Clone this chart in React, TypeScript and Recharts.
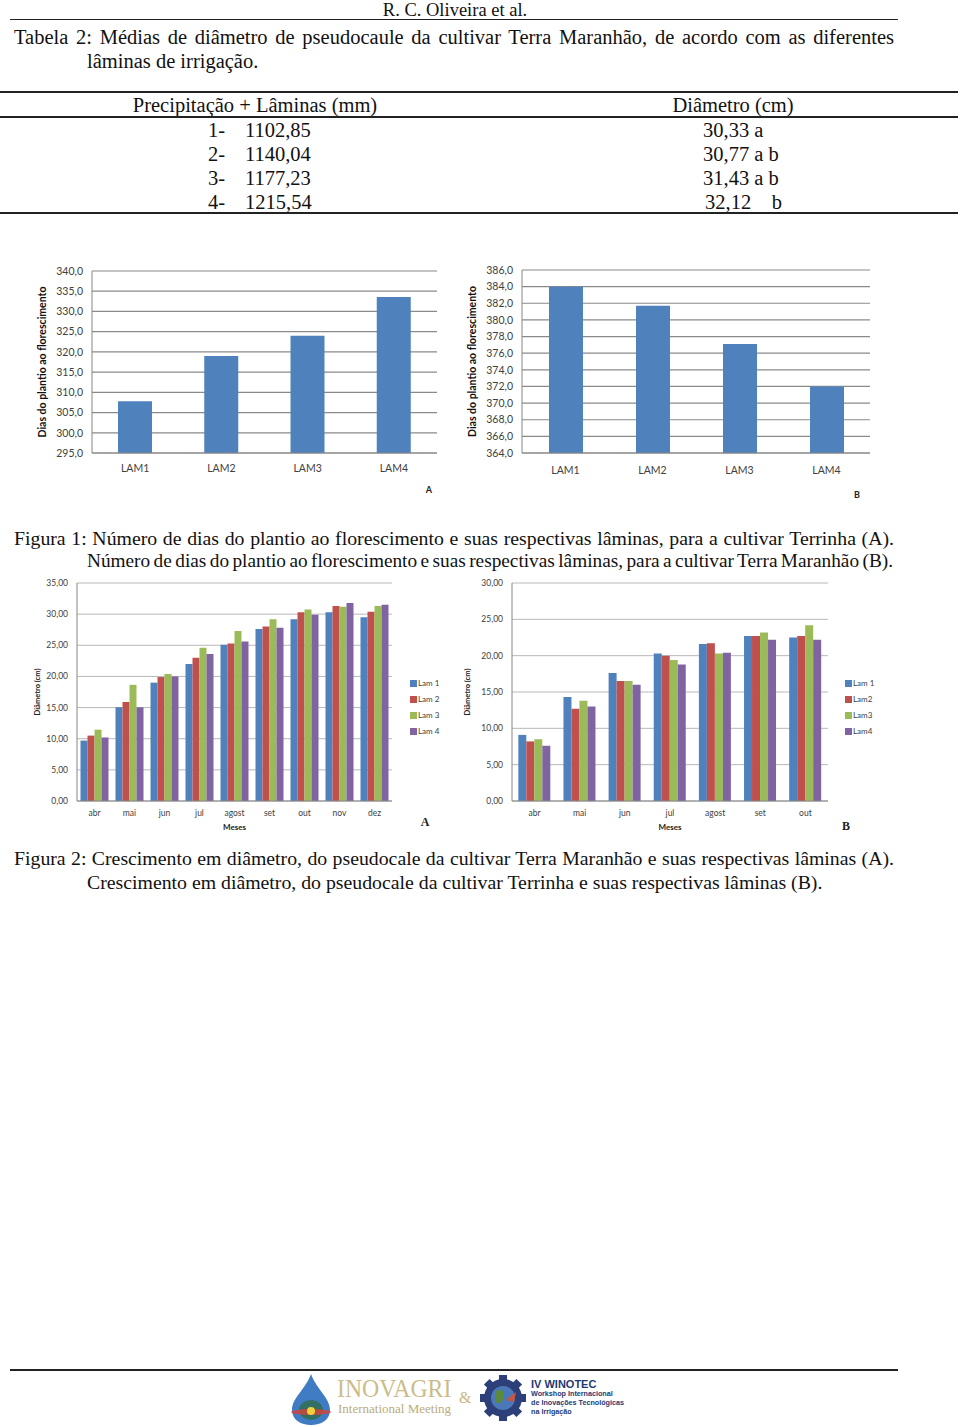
import React from "react";
import { BarChart, Bar, XAxis, YAxis, CartesianGrid, Legend } from "recharts";

// tabela 2
const laminasMm = ["1102,85", "1140,04", "1177,23", "1215,54"];
const diametroCm = ["30,33 a", "30,77 a b", "31,43 a b", "32,12    b"];

// figura 1
const lamCats = ["LAM1", "LAM2", "LAM3", "LAM4"];
const diasTerrinha = [307.8, 319.0, 324.0, 333.6];
const diasMaranhao = [384.0, 381.7, 377.1, 372.0];
const ticksTerrinha = [295, 300, 305, 310, 315, 320, 325, 330, 335, 340];
const ticksMaranhao = [364, 366, 368, 370, 372, 374, 376, 378, 380, 382, 384, 386];

// figura 2 A (Terra Maranhão)
const mesesA = ["abr", "mai", "jun", "jul", "agost", "set", "out", "nov", "dez"];
const lam1A = [9.7, 15.05, 19.0, 22.0, 25.1, 27.6, 29.2, 30.3, 29.5];
const lam2A = [10.5, 15.9, 19.9, 23.0, 25.3, 28.0, 30.3, 31.3, 30.4];
const lam3A = [11.45, 18.65, 20.4, 24.6, 27.3, 29.2, 30.75, 31.2, 31.3];
const lam4A = [10.2, 15.05, 20.0, 23.6, 25.6, 27.8, 29.9, 31.8, 31.5];
const ticksA = [0, 5, 10, 15, 20, 25, 30, 35];

// figura 2 B (Terrinha)
const mesesB = ["abr", "mai", "jun", "jul", "agost", "set", "out"];
const lam1B = [9.1, 14.3, 17.6, 20.3, 21.6, 22.7, 22.5];
const lam2B = [8.2, 12.7, 16.5, 20.0, 21.7, 22.7, 22.7];
const lam3B = [8.5, 13.8, 16.5, 19.4, 20.3, 23.2, 24.2];
const lam4B = [7.6, 13.0, 16.0, 18.8, 20.4, 22.2, 22.2];
const ticksB = [0, 5, 10, 15, 20, 25, 30];

const SERIF = '"Liberation Serif", "Times New Roman", serif';
const SANS = 'Lato, "Liberation Sans", sans-serif';
const COLORS = ["#4F81BD", "#C0504D", "#9BBB59", "#8064A2"];

const fmt1 = (v: number) => v.toFixed(1).replace(".", ",");
const fmt2 = (v: number) => v.toFixed(2).replace(".", ",");

function TextLine({ x, y, w, text, size = 19.8, justify = false, center = false, ws = 0 }: any) {
  return (
    <div
      style={{
        position: "absolute",
        left: x,
        top: y - 12,
        width: w,
        height: 24,
        lineHeight: "24px",
        fontSize: size,
        fontFamily: SERIF,
        color: "#111",
        wordSpacing: ws,
        whiteSpace: justify ? "normal" : "pre",
        textAlign: center ? "center" : justify ? "justify" : "left",
        textAlignLast: justify ? "justify" : undefined,
      }}
    >
      {text}
    </div>
  );
}

function Rule({ x, y, w, h = 1 }: any) {
  return <div style={{ position: "absolute", left: x, top: y, width: w, height: h, background: "#222" }} />;
}

function Letter({ x, y, text, serif = false, size = 10 }: any) {
  return (
    <div
      style={{
        position: "absolute",
        left: x - 10,
        top: y - 8,
        width: 20,
        height: 16,
        lineHeight: "16px",
        textAlign: "center",
        fontFamily: serif ? SERIF : SANS,
        fontWeight: 700,
        fontSize: size,
        color: "#222",
      }}
    >
      {text}
    </div>
  );
}

function DiasChart({ values, ticks, left, top, mTop, mRight, tickGap }: any) {
  const data = lamCats.map((c, i) => ({ cat: c, dias: values[i] }));
  return (
    <div style={{ position: "absolute", left, top }}>
      <BarChart
        width={415}
        height={245}
        data={data}
        margin={{ top: mTop, right: mRight, left: 0, bottom: 22 }}
      >
        <CartesianGrid vertical={false} stroke="#8a8a8a" strokeWidth={1.2} />
        <XAxis
          dataKey="cat"
          height={30}
          tickLine={false}
          tickSize={0}
          tickMargin={tickGap}
          axisLine={{ stroke: "#868686" }}
          tick={{ fontSize: 10.5, fill: "#404040", fontFamily: SANS }}
        />
        <YAxis
          width={62}
          domain={[ticks[0], ticks[ticks.length - 1]]}
          ticks={ticks}
          interval={0}
          tickFormatter={fmt1}
          tickLine={false}
          tickSize={0}
          tickMargin={9}
          axisLine={{ stroke: "#868686" }}
          tick={{ fontSize: 10.5, fill: "#404040", fontFamily: SANS }}
          label={{
            value: "Dias do plantio ao florescimento",
            angle: -90,
            position: "insideLeft",
            offset: 12,
            style: { textAnchor: "middle", fontSize: 10.5, fontWeight: 700, fill: "#111", fontFamily: SANS },
          }}
        />
        <Bar dataKey="dias" fill={COLORS[0]} barSize={34} isAnimationActive={false} />
      </BarChart>
    </div>
  );
}

function DiametroChart({ meses, series, names, ticks, left, top, mRight, yWidth, gap, legendLeft }: any) {
  const data = meses.map((m: string, i: number) => ({
    mes: m,
    l1: series[0][i],
    l2: series[1][i],
    l3: series[2][i],
    l4: series[3][i],
  }));
  return (
    <div style={{ position: "absolute", left, top }}>
      <BarChart
        width={420}
        height={256}
        data={data}
        margin={{ top: 8, right: mRight, left: 0, bottom: 0 }}
        barCategoryGap={gap}
        barGap={0}
      >
        <CartesianGrid vertical={false} stroke="#b8b8b8" />
        <XAxis
          dataKey="mes"
          height={30}
          interval={0}
          tickLine={false}
          tickSize={0}
          tickMargin={9}
          axisLine={{ stroke: "#868686" }}
          tick={{ fontSize: 8.5, fill: "#404040", fontFamily: SANS }}
          label={{
            value: "Meses",
            position: "insideBottom",
            offset: 1,
            style: { fontSize: 8, fontWeight: 700, fill: "#222", fontFamily: SANS },
          }}
        />
        <YAxis
          width={yWidth}
          domain={[ticks[0], ticks[ticks.length - 1]]}
          ticks={ticks}
          interval={0}
          tickFormatter={fmt2}
          tickLine={false}
          tickSize={0}
          tickMargin={9}
          axisLine={{ stroke: "#868686" }}
          tick={{ fontSize: 8.5, fill: "#404040", fontFamily: SANS }}
          label={{
            value: "Diâmetro (cm)",
            angle: -90,
            position: "insideLeft",
            offset: 7,
            style: { textAnchor: "middle", fontSize: 7.5, fontWeight: 700, fill: "#222", fontFamily: SANS },
          }}
        />
        <Legend
          layout="vertical"
          align="center"
          verticalAlign="middle"
          iconType="square"
          iconSize={7}
          wrapperStyle={{ left: legendLeft, top: 100, width: 50, fontSize: 8, lineHeight: "16px", fontFamily: SANS }}
          formatter={(v: string) => <span style={{ color: "#404040", marginLeft: -3 }}>{v}</span>}
        />
        {["l1", "l2", "l3", "l4"].map((k, i) => (
          <Bar key={k} dataKey={k} name={names[i]} fill={COLORS[i]} isAnimationActive={false} />
        ))}
      </BarChart>
    </div>
  );
}

function Logos() {
  return (
    <div style={{ position: "absolute", left: 0, top: 1370, width: 960, height: 57 }}>
      <svg width={960} height={57} style={{ position: "absolute", left: 0, top: 0 }}>
        <path d="M311 4 C305 20 292 28 292 40 C292 50 301 55 311 55 C321 55 330 50 330 40 C330 28 317 20 311 4 Z" fill="#3f7cc4" />
        <ellipse cx={311} cy={40} rx={12} ry={10} fill="#2f6a3a" opacity={0.7} />
        <ellipse cx={311} cy={42} rx={20} ry={3} fill="#d8413a" opacity={0.8} />
        <circle cx={311} cy={41} r={4} fill="#f2d13b" />
        <circle cx={503} cy={28} r={19} fill="#2c3f78" />
        {[0, 45, 90, 135, 180, 225, 270, 315].map((a) => (
          <rect key={a} x={499} y={5} width={8} height={8} fill="#2c3f78" transform={`rotate(${a} 503 28)`} />
        ))}
        <circle cx={503} cy={28} r={12} fill="#4b78b8" />
        <path d="M495 22 C499 18 505 20 504 26 C503 32 498 36 496 31 Z" fill="#5c8a3c" />
        <path d="M506 30 L516 22 L514 32 Z" fill="#c8553d" />
      </svg>
      <div style={{ position: "absolute", left: 337, top: 5, fontFamily: SERIF, fontSize: 25, lineHeight: "28px", color: "#cbbd8a", transform: "scaleX(0.95)", transformOrigin: "left" }}>
        INOVAGRI
      </div>
      <div style={{ position: "absolute", left: 338, top: 31, fontFamily: SERIF, fontSize: 13, lineHeight: "16px", color: "#b9ac7a" }}>
        International Meeting
      </div>
      <div style={{ position: "absolute", left: 459, top: 19, fontFamily: SERIF, fontSize: 16, lineHeight: "18px", color: "#c9b97f" }}>&amp;</div>
      <div style={{ position: "absolute", left: 531, top: 8, fontFamily: '"Liberation Sans", sans-serif', fontWeight: 700, fontSize: 11, lineHeight: "12px", color: "#1f3a72" }}>
        IV WINOTEC
      </div>
      {["Workshop Internacional", "de Inovações Tecnológicas", "na Irrigação"].map((t, i) => (
        <div key={t} style={{ position: "absolute", left: 531, top: 19 + i * 9, fontFamily: '"Liberation Sans", sans-serif', fontWeight: 700, fontSize: 7.2, lineHeight: "9px", color: "#1f3a72" }}>
          {t}
        </div>
      ))}
    </div>
  );
}

export default function App() {
  return (
    <div style={{ position: "absolute", left: 0, top: 0, width: 960, height: 1427, background: "#fff", overflow: "hidden" }}>
      <TextLine x={0} y={10} w={910} text="R. C. Oliveira et al." size={18.5} center />
      <Rule x={10} y={19} w={888} />
      <TextLine x={14} y={37} w={880} justify size={20.5} text="Tabela 2: Médias de diâmetro de pseudocaule da cultivar Terra Maranhão, de acordo com as diferentes" />
      <TextLine x={87} y={61} w={600} size={20.5} text="lâminas de irrigação." />

      <Rule x={0} y={91} w={958} h={2} />
      <TextLine x={100} y={105} w={310} center size={20.5} text="Precipitação + Lâminas (mm)" />
      <TextLine x={633} y={105} w={200} center size={20.5} text="Diâmetro (cm)" />
      <Rule x={0} y={116} w={958} h={1.5} />
      {laminasMm.map((v, i) => (
        <React.Fragment key={v}>
          <TextLine x={208} y={130 + i * 24} w={40} size={20.5} text={`${i + 1}-`} />
          <TextLine x={245} y={130 + i * 24} w={120} size={20.5} text={v} />
          <TextLine x={i === 3 ? 705 : 703} y={130 + i * 24} w={160} size={20.5} text={diametroCm[i]} />
        </React.Fragment>
      ))}
      <Rule x={0} y={212} w={958} h={2} />

      <DiasChart values={diasTerrinha} ticks={ticksTerrinha} left={30} top={260} mTop={11} mRight={8} tickGap={12} />
      <Letter x={429} y={490} text="A" size={9} />
      <DiasChart values={diasMaranhao} ticks={ticksMaranhao} left={460} top={260} mTop={10} mRight={5} tickGap={14} />
      <Letter x={857} y={495} text="B" size={9} />

      <TextLine x={14} y={538} w={880} justify text="Figura 1: Número de dias do plantio ao florescimento e suas respectivas lâminas, para a cultivar Terrinha (A)." />
      <TextLine x={87} y={561} w={806} justify size={19.3} ws={-1.8} text="Número de dias do plantio ao florescimento e suas respectivas lâminas, para a cultivar Terra Maranhão (B)." />

      <DiametroChart
        meses={mesesA}
        series={[lam1A, lam2A, lam3A, lam4A]}
        names={["Lam 1", "Lam 2", "Lam 3", "Lam 4"]}
        ticks={ticksA}
        left={30}
        top={575}
        mRight={58}
        yWidth={47}
        gap="10%"
        legendLeft={380}
      />
      <Letter x={425} y={822} text="A" serif size={12} />
      <DiametroChart
        meses={mesesB}
        series={[lam1B, lam2B, lam3B, lam4B]}
        names={["Lam 1", "Lam2", "Lam3", "Lam4"]}
        ticks={ticksB}
        left={460}
        top={575}
        mRight={52}
        yWidth={52}
        gap="14%"
        legendLeft={385}
      />
      <Letter x={846} y={826} text="B" serif size={12} />

      <TextLine x={14} y={858} w={880} justify text="Figura 2: Crescimento em diâmetro, do pseudocale da cultivar Terra Maranhão e suas respectivas lâminas (A)." />
      <TextLine x={87} y={882} w={800} text="Crescimento em diâmetro, do pseudocale da cultivar Terrinha e suas respectivas lâminas (B)." />

      <Rule x={10} y={1369} w={888} h={1.5} />
      <Logos />
    </div>
  );
}
